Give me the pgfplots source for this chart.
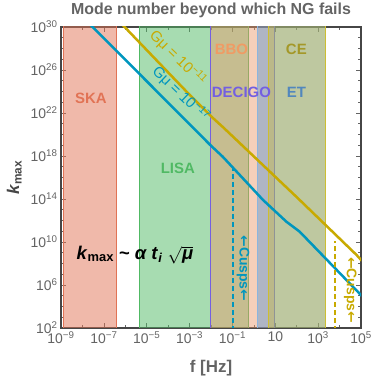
\documentclass[border=0pt]{standalone}
\usepackage{fontspec}
\setmainfont{Liberation Sans}
\newfontfamily\dejavu{DejaVu Sans}
\usepackage{amsmath}
\usepackage{pgfplots}
\pgfplotsset{compat=1.18}
\definecolor{skaC}{RGB}{225,115,85}
\definecolor{lisaC}{RGB}{80,185,100}
\definecolor{decC}{RGB}{115,95,225}
\definecolor{bboC}{RGB}{240,155,100}
\definecolor{etC}{RGB}{90,150,210}
\definecolor{ceC}{RGB}{205,190,50}
\definecolor{yelC}{RGB}{200,170,0}
\definecolor{tealC}{RGB}{0,150,190}
\definecolor{txtgray}{RGB}{100,100,100}
\definecolor{frameC}{RGB}{70,70,70}
\begin{document}
\begin{tikzpicture}
\begin{axis}[name=ax, scale only axis, width=300bp, height=301bp,
  xmode=log, ymode=log, xmin=1e-9, xmax=1e5, ymin=1e2, ymax=1e30,
  axis line style={frameC, line width=1.2bp},
  xtick={1e-9,1e-7,1e-5,1e-3,1e-1,1e1,1e3,1e5},
  xticklabels={10\textsuperscript{−9},10\textsuperscript{−7},10\textsuperscript{−5},10\textsuperscript{−3},10\textsuperscript{−1},10,10\textsuperscript{3},10\textsuperscript{5}},
  minor xtick={1e-8,1e-6,1e-4,1e-2,1e0,1e2,1e4},
  ytick={1e2,1e6,1e10,1e14,1e18,1e22,1e26,1e30},
  yticklabels={10\textsuperscript{2},10\textsuperscript{6},10\textsuperscript{10},10\textsuperscript{14},10\textsuperscript{18},10\textsuperscript{22},10\textsuperscript{26},10\textsuperscript{30}},
  minor ytick={1e3,1e4,1e5,1e7,1e8,1e9,1e11,1e12,1e13,1e15,1e16,1e17,1e19,1e20,1e21,1e23,1e24,1e25,1e27,1e28,1e29},
  tick style={txtgray, line width=0.6bp},
  major tick length=5bp, minor tick length=3bp,
  tick label style={font=\fontsize{14}{14}\selectfont, text=txtgray},
  clip=true,
]
% bands
\addplot[fill=skaC, fill opacity=0.5, draw=skaC, line width=1.2bp] coordinates {(1.28e-9,1e1) (1.28e-9,1e31) (3.78e-7,1e31) (3.78e-7,1e1)} -- cycle;
\addplot[fill=lisaC, fill opacity=0.5, draw=lisaC, line width=1.2bp] coordinates {(4.46e-6,1e1) (4.46e-6,1e31) (0.577,1e31) (0.577,1e1)} -- cycle;
\addplot[fill=bboC, fill opacity=0.45, draw=bboC, line width=1.2bp] coordinates {(9.25e-3,1e1) (9.25e-3,1e31) (8.89,1e31) (8.89,1e1)} -- cycle;
\addplot[fill=decC, fill opacity=0.02, draw=decC, line width=1.2bp] coordinates {(9.25e-3,1e1) (9.25e-3,1e31) (8.89,1e31) (8.89,1e1)} -- cycle;
\addplot[fill=etC, fill opacity=0.45, draw=etC!70, line width=1.2bp] coordinates {(1.51,1e1) (1.51,1e31) (2.11e3,1e31) (2.11e3,1e1)} -- cycle;
\addplot[fill=ceC, fill opacity=0.4, draw=ceC, line width=1.2bp] coordinates {(4.92,1e1) (4.92,1e31) (2.23e3,1e31) (2.23e3,1e1)} -- cycle;
% lines
\addplot[yelC, line width=2.5bp] coordinates {(5.37e-7,3.16e30) (1.026e-3,4.68e23) (1.086e-2,4.27e21) (3.54e-2,5.01e20) (110.7,1.23e14) (6.21e4,6.17e8) (1.585e5,7.94e7)};
\addplot[tealC, line width=2.5bp] coordinates {(1.70e-8,3.16e30) (9.25e-3,1.047e19) (3.54e-2,8.51e17) (2.673,8.13e13) (32.9,7.76e11) (137.1,9.12e10) (1.585e5,4.47e4)};
\addplot[tealC, line width=2bp, dash pattern=on 5bp off 3bp] coordinates {(0.107,1e1) (0.107,7.9e16)};
\addplot[yelC, line width=2bp, dash pattern=on 5bp off 3bp] coordinates {(5.86e3,1e1) (5.86e3,1.12e10)};
% labels
\node[text=skaC, font=\bfseries\fontsize{15}{15}\selectfont] at (axis cs:2.5e-8,2.5e23) {SKA};
\node[text=lisaC, font=\bfseries\fontsize{15}{15}\selectfont] at (axis cs:2.83e-4,7.6e16) {LISA};
\node[text=bboC, font=\bfseries\fontsize{15}{15}\selectfont] at (axis cs:0.09,8.5e27) {BBO};
\node[text=decC, font=\bfseries\fontsize{15}{15}\selectfont] at (axis cs:0.263,7.8e23) {DECIGO};
\node[text=ceC!80!black, font=\bfseries\fontsize{15}{15}\selectfont] at (axis cs:96,8.5e27) {CE};
\node[text=etC!90!black, font=\bfseries\fontsize{15}{15}\selectfont] at (axis cs:96,7.8e23) {ET};
\node[text=yelC, font=\fontsize{15}{15}\selectfont, rotate=-44] at (axis cs:2.83e-4,1.32e27) {Gμ = 10\textsuperscript{−11}};
\node[text=tealC, font=\fontsize{15}{15}\selectfont, rotate=-44] at (axis cs:3.91e-4,5.9e23) {Gμ = 10\textsuperscript{−17}};
\node[text=tealC, font=\bfseries\fontsize{14}{14}\selectfont, rotate=-90] at (axis cs:0.313,3.55e7) {{\dejavu ←}Cusps{\dejavu ←}};
\node[text=yelC, font=\bfseries\fontsize{14}{14}\selectfont, rotate=-90] at (axis cs:3.2e4,3.4e5) {{\dejavu ←}Cusps{\dejavu ←}};
\node[text=black, font=\bfseries\fontsize{18.5}{18.5}\selectfont] at (axis cs:2.8e-6,6.2e8) {\textit{k}\textsubscript{max} \textasciitilde{} \textit{α t}\textsubscript{\textit{i}} $\sqrt{\text{\textit{μ}}}$};
\end{axis}
\node[anchor=base, text=txtgray, font=\bfseries\fontsize{16}{16}\selectfont] at ([yshift=12bp]ax.north) {Mode number beyond which NG fails};
\node[anchor=base, text=txtgray, font=\bfseries\fontsize{17}{17}\selectfont] at ([yshift=-44.7bp]ax.south) {f [Hz]};
\node[anchor=base, rotate=90, text=frameC, font=\bfseries\fontsize{17}{17}\selectfont] at ([xshift=-42bp]ax.west) {\textit{k}\textsubscript{max}};
\pgfresetboundingbox
\path (ax.south west) ++(-61bp,-50bp) rectangle ([shift={(13bp,27bp)}]ax.north east);
\end{tikzpicture}
\end{document}
